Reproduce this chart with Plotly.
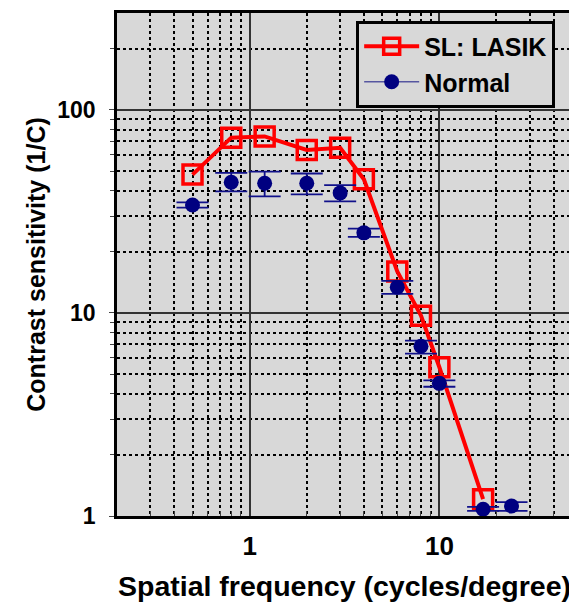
import plotly.graph_objects as go

# ---- data ----
lasik_freq = [0.5, 0.8, 1.2, 2.0, 3.0, 4.0, 6.0, 8.0, 10.0, 17.0]
lasik_cs = [48, 73, 74, 63.5, 65, 45.5, 16.0, 9.7, 5.4, 1.21]

normal_freq = [0.5, 0.8, 1.2, 2.0, 3.0, 4.0, 6.0, 8.0, 10.0, 17.0, 24.0]
normal_cs = [34, 44, 43.5, 43.5, 39, 24.8, 13.4, 6.85, 4.5, 1.08, 1.12]
normal_err_plus = [1.0, 4.9, 6.2, 5.1, 3.6, 1.2, 1.0, 0.45, 0.15, 0.03, 0.05]
normal_err_minus = [1.0, 4.3, 6.0, 5.1, 3.6, 1.1, 1.0, 0.55, 0.17, 0.02, 0.06]

x_major = [1, 10]
x_major_text = ["1", "10"]
x_minor = [0.3, 0.4, 0.5, 0.6, 0.7, 0.8, 0.9, 2, 3, 4, 5, 6, 7, 8, 9, 20, 30, 40]
y_major = [1, 10, 100]
y_major_text = ["1", "10", "100"]
y_minor = [2, 3, 4, 5, 6, 7, 8, 9, 20, 30, 40, 50, 60, 70, 80, 90, 200]

FONT = "Liberation Sans, Arial, sans-serif"
RED = "#FF0000"
NAVY = "#000080"
BG = "#D8D8D8"

fig = go.Figure()

fig.add_trace(go.Scatter(
    x=lasik_freq, y=lasik_cs, mode="lines+markers", name="SL: LASIK",
    line=dict(color=RED, width=4),
    marker=dict(symbol="square-open", size=19, color=RED, line=dict(color=RED, width=3.5)),
))

fig.add_trace(go.Scatter(
    x=normal_freq, y=normal_cs, mode="markers", name="Normal", showlegend=False,
    marker=dict(symbol="circle", size=15, color=NAVY),
    error_y=dict(type="data", symmetric=False, array=normal_err_plus,
                 arrayminus=normal_err_minus, color="#10108A", thickness=1.8, width=16),
))

# legend entry for Normal (marker with thin line)
fig.add_trace(go.Scatter(
    x=[None], y=[None], mode="lines+markers", name="Normal",
    line=dict(color="#5656A0", width=1.5),
    marker=dict(symbol="circle", size=15, color=NAVY),
))

fig.update_layout(
    width=569, height=594,
    margin=dict(l=109, r=2, t=2, b=84),
    paper_bgcolor="white", plot_bgcolor=BG,
    font=dict(family=FONT, size=24, color="black"),
    showlegend=True,
    legend=dict(
        x=0.963, y=0.985, xanchor="right", yanchor="top",
        bgcolor=BG, bordercolor="black", borderwidth=3,
        font=dict(family=FONT, size=25, color="black", weight="bold"),
        tracegroupgap=0, itemwidth=55,
    ),
)

fig.update_xaxes(
    type="log", range=[0.30103 - 1, 1.69897],
    tickvals=x_major, ticktext=x_major_text,
    tickfont=dict(family=FONT, size=26, weight="bold"),
    ticks="", ticklabelstandoff=5,
    showgrid=True, gridcolor="#333333", gridwidth=1.5,
    showline=True, linecolor="black", linewidth=2.5, mirror=True,
    zeroline=False,
    minor=dict(tickvals=x_minor, showgrid=True, gridcolor="black", gridwidth=1.5,
               griddash="3px,3px", ticks="inside", ticklen=5, tickcolor="#444"),
    title=dict(text="Spatial frequency (cycles/degree)",
               font=dict(family=FONT, size=28.5, weight="bold"), standoff=19),
)

fig.update_yaxes(
    type="log", range=[0, 2.4771],
    tickvals=y_major, ticktext=y_major_text,
    tickfont=dict(family=FONT, size=23, weight="bold"),
    ticks="outside", ticklen=5, tickcolor="#444", ticklabelstandoff=9,
    showgrid=True, gridcolor="#333333", gridwidth=1.5,
    showline=True, linecolor="black", linewidth=2.5, mirror=True,
    zeroline=False,
    minor=dict(tickvals=y_minor, showgrid=True, gridcolor="black", gridwidth=1.5,
               griddash="3px,3px", ticks="outside", ticklen=4, tickcolor="#444"),
    title=dict(text="Contrast sensitivity (1/C)",
               font=dict(family=FONT, size=25, weight="bold"), standoff=5),
)

fig.write_html("out.html")
